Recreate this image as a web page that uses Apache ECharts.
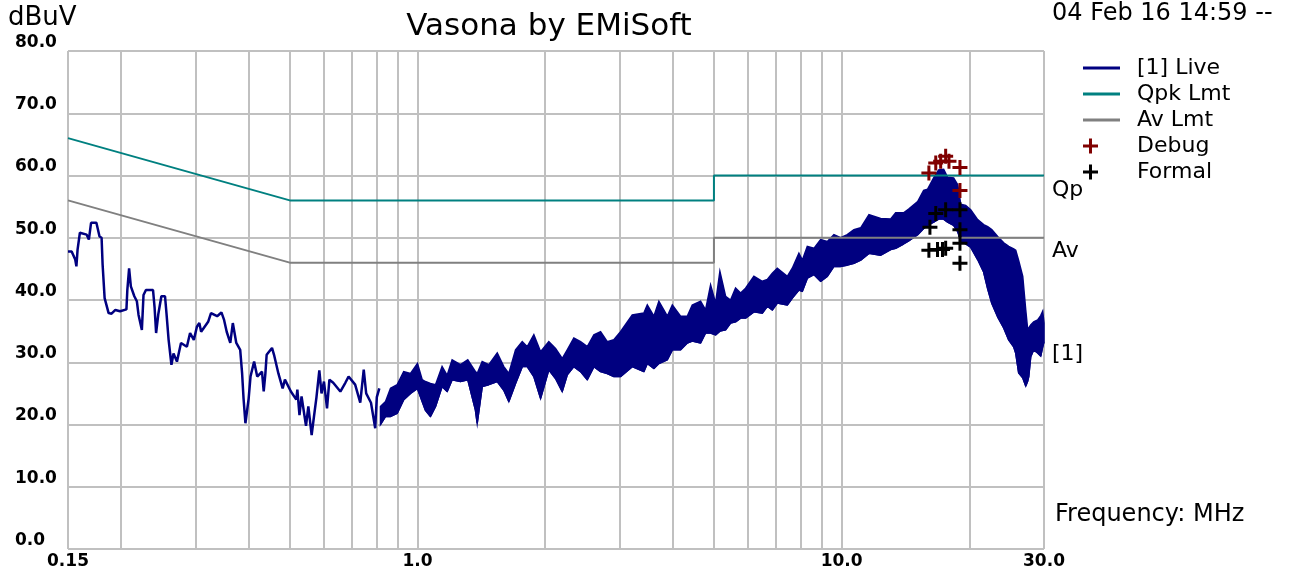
<!DOCTYPE html>
<html>
<head>
<meta charset="utf-8">
<title>Vasona by EMiSoft</title>
<script src="https://cdn.jsdelivr.net/npm/echarts@6/dist/echarts.min.js"></script>
<style>
html, body { margin: 0; padding: 0; background: #fff; }
#chart { width: 1297px; height: 575px; }
</style>
</head>
<body>
<div id="chart"></div>
<script>
// live trace, low band (thin line), MHz / dBuV
var liveFreq = [0.150,0.153,0.156,0.157,0.158,0.160,0.166,0.168,0.170,0.175,
  0.178,0.180,0.181,0.183,0.187,0.190,0.194,0.199,0.206,0.207,
  0.209,0.211,0.215,0.218,0.220,0.224,0.226,0.229,0.238,0.240,
  0.242,0.245,0.249,0.254,0.256,0.259,0.263,0.266,0.271,0.277,
  0.286,0.291,0.297,0.302,0.306,0.309,0.321,0.326,0.337,0.345,
  0.350,0.355,0.362,0.367,0.374,0.382,0.386,0.389,0.393,0.400,
  0.404,0.412,0.419,0.430,0.434,0.438,0.441,0.454,0.459,0.470,
  0.481,0.487,0.503,0.518,0.521,0.527,0.533,0.546,0.553,0.563,
  0.570,0.578,0.587,0.594,0.602,0.612,0.620,0.633,0.658,0.676,
  0.688,0.713,0.733,0.747,0.757,0.777,0.795,0.802,0.813];
var liveLevel = [47.8,47.8,46.5,45.4,48.1,50.8,50.5,49.7,52.4,52.4,
  50.2,50.0,45.7,40.3,37.9,37.8,38.4,38.2,38.5,41.6,
  45.1,42.2,40.6,39.8,37.6,35.2,40.8,41.6,41.6,38.8,
  34.7,37.8,40.6,40.6,37.9,33.6,29.6,31.4,30.1,33.1,
  32.5,34.7,33.6,35.7,36.3,34.9,36.5,37.9,37.4,38.0,
  36.8,34.9,33.1,36.3,33.1,32.0,28.2,24.2,20.2,24.2,
  27.7,30.1,27.7,28.5,25.3,28.2,31.2,32.3,31.2,28.2,
  25.8,27.2,25.3,24.0,25.6,21.5,24.5,19.8,22.9,18.3,
  21.2,24.4,28.7,25.0,26.9,22.6,27.2,26.7,25.3,26.7,
  27.7,26.4,23.5,28.8,25.0,23.5,19.4,24.4,25.8];

// live trace above ~0.8 MHz is a dense band: top and bottom of it
var bandFreq = [0.818,0.841,0.864,0.896,0.928,0.963,1.00,1.026,1.044,1.073,
  1.103,1.143,1.175,1.207,1.263,1.314,1.370,1.383,1.421,1.473,
  1.542,1.598,1.642,1.703,1.766,1.815,1.881,1.951,2.040,2.116,
  2.194,2.255,2.337,2.424,2.514,2.606,2.702,2.802,2.904,3.011,
  3.209,3.418,3.482,3.609,3.708,3.882,3.989,4.172,4.326,4.445,
  4.650,4.778,4.910,5.045,5.164,5.326,5.472,5.623,5.778,5.937,
  6.211,6.501,6.681,6.864,7.053,7.446,7.651,7.930,8.078,8.300,
  8.603,8.922,9.253,9.590,9.946,10.31,10.69,11.09,11.60,12.36,
  13.05,13.41,14.00,14.39,15.11,15.61,15.95,16.48,16.93,17.40,
  17.78,18.37,18.78,19.09,19.61,20.15,20.93,21.62,22.10,22.59,
  23.33,24.11,24.77,25.45,25.73,26.15,26.73,27.17,27.46,27.61,
  27.91,28.37,28.99,29.47,29.79,30.0];
var bandHigh = [22.9,23.7,25.8,26.4,28.5,28.2,29.8,27.2,26.9,26.6,
  26.4,29.3,27.9,30.4,29.6,30.4,28.5,28.2,30.1,29.6,
  31.5,29.3,28.2,32.0,33.3,32.5,34.4,31.7,33.3,32.2,
  30.6,32.0,33.9,33.3,32.5,34.4,34.9,33.3,33.6,34.9,
  37.6,37.9,39.2,37.4,39.8,37.4,39.2,37.4,37.4,39.2,
  39.8,38.4,42.4,39.5,44.6,40.6,40.0,41.9,41.1,41.9,
  43.8,43.0,43.3,44.3,45.1,43.8,45.1,47.5,46.4,48.6,
  48.3,49.7,49.4,50.5,50.0,50.5,51.3,51.6,53.7,53.1,
  53.0,54.0,54.0,54.6,55.8,57.6,57.8,59.6,60.9,61.0,
  59.7,59.6,58.5,55.4,55.2,54.5,52.9,52.1,51.8,51.3,
  50.2,49.2,48.6,48.2,48.0,46.3,43.8,38.4,35.2,35.5,
  36.0,36.5,36.8,37.5,38.2,36.3];
var bandLow = [20.0,21.3,21.3,21.8,24.0,25.0,25.8,23.7,22.3,21.3,
  22.9,26.1,25.3,27.2,26.9,27.2,22.3,20.2,26.1,26.4,
  26.9,25.5,23.7,26.6,29.3,29.3,27.7,24.2,28.8,27.4,
  25.3,28.0,29.3,28.5,27.2,29.3,28.5,28.2,27.7,27.7,
  29.3,28.5,29.8,29.0,29.8,30.4,32.0,32.0,33.1,33.4,
  33.1,34.7,34.7,34.4,35.0,35.2,36.3,36.5,37.1,37.1,
  38.1,37.9,39.0,38.4,39.5,39.2,40.3,41.6,41.4,43.5,
  44.1,43.0,43.8,45.4,45.4,45.6,45.9,46.4,47.5,47.2,
  48.1,48.3,49.0,49.5,50.5,51.5,52.0,52.5,53.0,53.0,
  52.5,52.0,51.0,49.5,49.0,48.5,46.5,44.5,41.8,39.5,
  37.3,35.5,33.6,32.5,31.5,28.3,27.5,26.2,27.0,27.7,
  30.9,32.0,31.5,31.0,32.5,33.3];

// limit lines
var qpkFreq = [0.15, 0.5, 5, 5, 30];
var qpkLevel = [66, 56, 56, 60, 60];
var avFreq = [0.15, 0.5, 5, 5, 30];
var avLevel = [56, 46, 46, 50, 50];

// measured points
var debugFreq = [16.06, 16.67, 17.12, 17.59, 17.91, 19.01, 19.01];
var debugLevel = [60.4, 62.0, 62.3, 63.1, 62.3, 61.3, 57.6];
var formalFreq = [16.67, 17.59, 19.01, 16.15, 19.01, 16.06, 16.83, 17.29, 17.59, 19.01, 19.01];
var formalLevel = [53.9, 54.5, 54.5, 51.7, 51.3, 48.0, 48.1, 48.1, 48.3, 49.1, 45.9];

// vertical grid lines
var gridFreqs = [0.15, 0.2, 0.3, 0.4, 0.5, 0.6, 0.7, 0.8, 0.9,
  1, 2, 3, 4, 5, 6, 7, 8, 9, 10, 20, 30];

var FONT = 'DejaVu Sans';
var plusPath = 'path://M6,0H9V6H15V9H9V15H6V9H0V6H6Z';
var NAVY = '#000080';

function pairs(fs, vs) {
  return fs.map(function (f, i) { return [f, vs[i]]; });
}

// the band is one polygon: top edge left->right, bottom edge back
function renderBand(params, api) {
  if (params.dataIndex !== 0) return;
  var pts = [];
  for (var i = 0; i < bandFreq.length; i++) pts.push(api.coord([bandFreq[i], bandHigh[i]]));
  for (var j = bandFreq.length - 1; j >= 0; j--) pts.push(api.coord([bandFreq[j], bandLow[j]]));
  return {
    type: 'polygon',
    shape: { points: pts },
    style: { fill: NAVY, stroke: NAVY, lineWidth: 1.5 }
  };
}

var chart = echarts.init(document.getElementById('chart'));
chart.setOption({
  animation: false,
  backgroundColor: '#fff',
  title: [
    { text: 'Vasona by EMiSoft', left: 549, top: 11, textAlign: 'center', padding: 0,
      textStyle: { fontFamily: FONT, fontSize: 31, fontWeight: 'normal', color: '#000' } },
    { text: 'dBuV', left: 8, top: 5, padding: 0,
      textStyle: { fontFamily: FONT, fontSize: 26, fontWeight: 'normal', color: '#000' } },
    { text: '04 Feb 16 14:59 --', left: 1052, top: 2, padding: 0,
      textStyle: { fontFamily: FONT, fontSize: 24, fontWeight: 'normal', color: '#000' } },
    { text: 'Frequency: MHz', left: 1055, top: 503, padding: 0,
      textStyle: { fontFamily: FONT, fontSize: 24, fontWeight: 'normal', color: '#000' } }
  ],
  legend: [
    { data: [{ name: '[1] Live', icon: 'rect' }, { name: 'Qpk Lmt', icon: 'rect' }, { name: 'Av Lmt', icon: 'rect' }],
      orient: 'vertical', left: 1083, top: 57, padding: 0,
      itemWidth: 37, itemHeight: 3, itemGap: 4, selectedMode: false,
      textStyle: { fontFamily: FONT, fontSize: 22, color: '#000', padding: [0, 0, 0, 12] } },
    { data: ['Debug', 'Formal'], orient: 'vertical', left: 1083, top: 135, padding: 0,
      itemWidth: 15, itemHeight: 15, itemGap: 4, selectedMode: false,
      textStyle: { fontFamily: FONT, fontSize: 22, color: '#000', padding: [0, 0, 0, 34] } }
  ],
  grid: { left: 68, right: 253, top: 51, bottom: 26 },
  xAxis: {
    type: 'log', logBase: 10, min: 0.15, max: 30,
    axisLine: { show: false }, axisTick: { show: false }, splitLine: { show: false },
    axisLabel: {
      margin: 4, showMinLabel: true, showMaxLabel: true,
      fontFamily: FONT, fontSize: 17, fontWeight: 'bold', color: '#000',
      formatter: function (v) { return v < 1 ? v.toFixed(2) : v.toFixed(1); }
    }
  },
  yAxis: {
    type: 'value', min: 0, max: 80, interval: 10,
    axisLine: { show: false }, axisTick: { show: false },
    splitLine: { show: true, lineStyle: { color: '#c0c0c0', width: 2 } },
    axisLabel: {
      margin: 53, align: 'left', verticalAlign: 'bottom',
      fontFamily: FONT, fontSize: 17, fontWeight: 'bold', color: '#000',
      formatter: function (v) { return v.toFixed(1); }
    }
  },
  series: [
    { name: 'grid', type: 'line', data: [], silent: true,
      markLine: { silent: true, z: 1, symbol: ['none', 'none'], label: { show: false },
        lineStyle: { color: '#c0c0c0', width: 2, type: 'solid' },
        data: gridFreqs.map(function (f) { return { xAxis: f }; }) } },
    { name: '[1] Live', type: 'line', symbol: 'none', z: 2, data: pairs(liveFreq, liveLevel),
      lineStyle: { color: NAVY, width: 2.5 }, itemStyle: { color: NAVY } },
    { name: '[1] Live', type: 'custom', renderItem: renderBand, silent: true, z: 2,
      data: pairs(bandFreq, bandHigh), itemStyle: { color: NAVY } },
    { name: '[1] Live', type: 'line', symbol: 'none', z: 2, data: pairs(bandFreq, bandLow),
      lineStyle: { color: NAVY, width: 1.5 }, itemStyle: { color: NAVY },
      endLabel: { show: true, formatter: '[1]', offset: [0, 13],
        fontFamily: FONT, fontSize: 22, color: '#000' } },
    { name: 'Qpk Lmt', type: 'line', symbol: 'none', z: 3, data: pairs(qpkFreq, qpkLevel),
      lineStyle: { color: '#008080', width: 2 }, itemStyle: { color: '#008080' },
      endLabel: { show: true, formatter: 'Qp', offset: [0, 15],
        fontFamily: FONT, fontSize: 22, color: '#000' } },
    { name: 'Av Lmt', type: 'line', symbol: 'none', z: 3, data: pairs(avFreq, avLevel),
      lineStyle: { color: '#808080', width: 2 }, itemStyle: { color: '#808080' },
      endLabel: { show: true, formatter: 'Av', offset: [0, 14],
        fontFamily: FONT, fontSize: 22, color: '#000' } },
    { name: 'Debug', type: 'scatter', symbol: plusPath, symbolSize: 15, z: 4,
      data: pairs(debugFreq, debugLevel), itemStyle: { color: '#800000', opacity: 1 } },
    { name: 'Formal', type: 'scatter', symbol: plusPath, symbolSize: 15, z: 4,
      data: pairs(formalFreq, formalLevel), itemStyle: { color: '#000', opacity: 1 } }
  ]
});
</script>
</body>
</html>
